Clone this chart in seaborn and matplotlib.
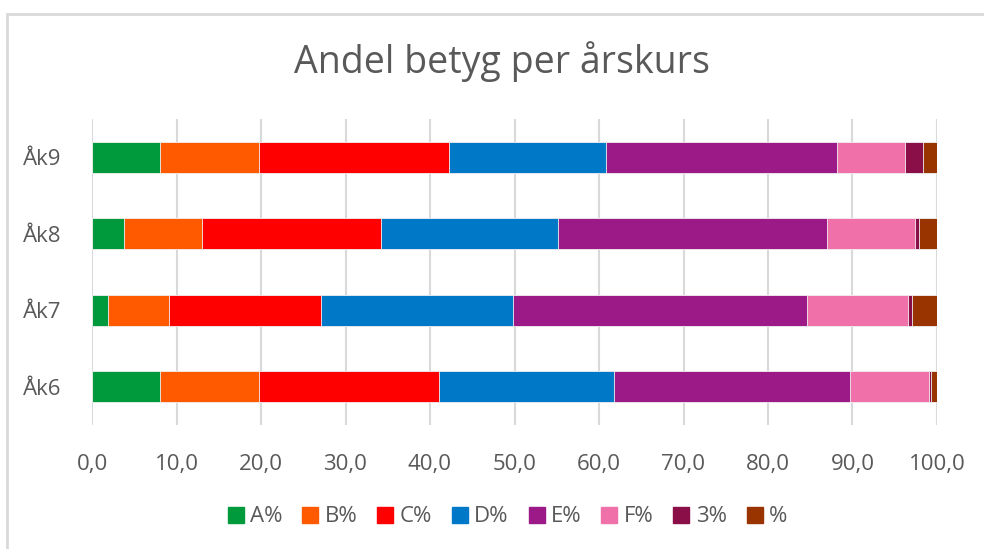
import matplotlib
matplotlib.use("Agg")
import matplotlib.pyplot as plt
import seaborn as sns
import pandas as pd
import numpy as np
from matplotlib.patches import Rectangle
from matplotlib.lines import Line2D

categories = ["Åk9", "Åk8", "Åk7", "Åk6"]
series_names = ["A%", "B%", "C%", "D%", "E%", "F%", "3%", "%"]
A = [8.1, 3.8, 1.9, 8.1]
B = [11.7, 9.2, 7.2, 11.7]
C = [22.5, 21.2, 18.0, 21.3]
D = [18.5, 20.9, 22.7, 20.7]
E = [27.4, 31.9, 34.8, 27.9]
F = [8.0, 10.4, 12.0, 9.4]
S3 = [2.1, 0.5, 0.5, 0.2]
P = [1.7, 2.1, 2.9, 0.7]
colors = ["#009A3D", "#FF5A00", "#FF0000", "#0078C8", "#9B1A87", "#F070AA", "#8A0E48", "#993300"]
xticks = [0, 10, 20, 30, 40, 50, 60, 70, 80, 90, 100]

sns.set_theme(style="white")
plt.rcParams["font.family"] = ["Open Sans", "DejaVu Sans"]
text_color = "#595959"

df = pd.DataFrame({"cat": categories, "A%": A, "B%": B, "C%": C, "D%": D,
                   "E%": E, "F%": F, "3%": S3, "%": P})
cum = df[series_names].cumsum(axis=1)
cum["cat"] = df["cat"]

fig = plt.figure(figsize=(9.84, 5.49), dpi=100)
ax = fig.add_axes([92 / 984, 1 - 425 / 549, 845 / 984, 306 / 549])

for name, col in reversed(list(zip(series_names, colors))):
    sns.barplot(data=cum, x=name, y="cat", order=categories, color=col,
                width=0.40, orient="h", ax=ax, saturation=1, linewidth=0.6,
                edgecolor="#f2f2f2")

ax.set_xlim(0, 100)
ax.set_ylim(3.5, -0.5)
ax.set_xticks(xticks)
ax.set_xticklabels([f"{v:.1f}".replace(".", ",") for v in xticks])
ax.set_xlabel("")
ax.set_ylabel("")
ax.xaxis.grid(True, color="#d9d9d9", linewidth=1.5)
ax.set_axisbelow(True)
for s in ax.spines.values():
    s.set_visible(False)
ax.tick_params(axis="x", length=0, pad=21, labelsize=16, labelcolor=text_color)
ax.tick_params(axis="y", length=0, pad=22, labelsize=16, labelcolor=text_color)

fig.text(502 / 984, 1 - 62 / 549, "Andel betyg per årskurs", ha="center", va="center",
         fontsize=27, color=text_color)

handles = [Line2D([0], [0], marker="s", linestyle="none", markersize=11,
                  markerfacecolor=c, markeredgecolor=c) for c in colors]
fig.legend(handles, series_names, loc="center", bbox_to_anchor=(507 / 984, 1 - 517 / 549),
           ncol=8, frameon=False, fontsize=16, labelcolor=text_color,
           handletextpad=0.25, columnspacing=0.85, handlelength=0.8)

fig.patches.append(Rectangle((7 / 984, -0.1), 1.2, (1 - 14 / 549) + 0.1, transform=fig.transFigure,
                             fill=False, edgecolor="#d9d9d9", linewidth=2))

fig.savefig("out.png", dpi=100)
